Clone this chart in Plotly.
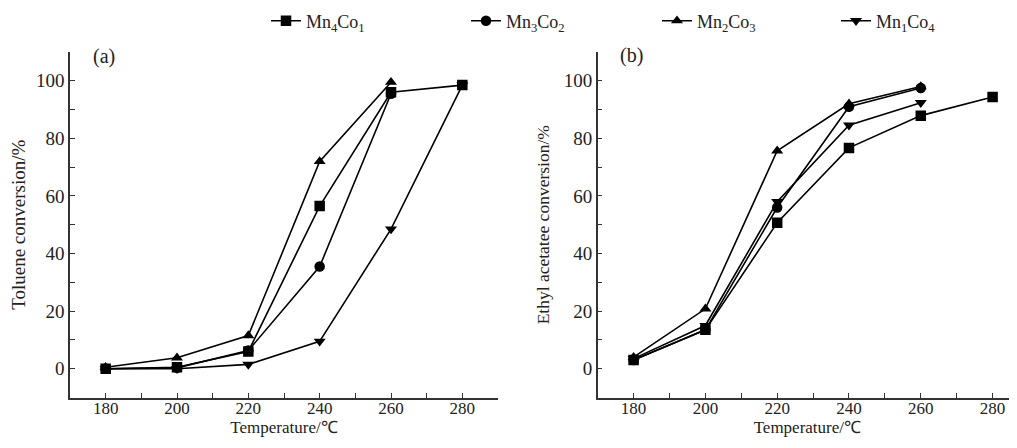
import plotly.graph_objects as go

temps = [180, 200, 220, 240, 260, 280]
series_names = ["Mn<sub>4</sub>Co<sub>1</sub>", "Mn<sub>3</sub>Co<sub>2</sub>",
                "Mn<sub>2</sub>Co<sub>3</sub>", "Mn<sub>1</sub>Co<sub>4</sub>"]
symbols = ["square", "circle", "triangle-up", "triangle-down"]

# Panel (a) toluene conversion
tol_mn4co1 = [0, 0.5, 6, 56.5, 96, 98.5]
tol_mn3co2 = [0, 0.3, 6.3, 35.5, 95.5]
tol_mn2co3 = [0.5, 3.8, 11.5, 72, 99.5]
tol_mn1co4 = [0, 0, 1.5, 9.5, 48.5, 98.5]

# Panel (b) ethyl acetate conversion
ea_mn4co1 = [3, 13.5, 50.7, 76.7, 87.9, 94.4]
ea_mn3co2 = [3, 13.5, 56, 91, 97.5]
ea_mn2co3 = [4, 20.8, 75.7, 92, 98]
ea_mn1co4 = [3.5, 15, 58, 84.6, 92.4]

tol = [tol_mn4co1, tol_mn3co2, tol_mn2co3, tol_mn1co4]
ea = [ea_mn4co1, ea_mn3co2, ea_mn2co3, ea_mn1co4]

FONT = "Liberation Serif, Times New Roman, serif"
OFF = 8  # page body margin
W, H = 1017 - OFF, 448 - OFF


def px(xp):
    return (xp - OFF) / W


def py(yp):
    return 1 - (yp - OFF) / H


fig = go.Figure()
legend_text_x = [308, 508, 699, 878]
for i in range(4):
    fig.add_trace(go.Scatter(
        x=temps[:len(tol[i])], y=tol[i], name=series_names[i], mode="lines+markers",
        line=dict(color="black", width=1.6),
        marker=dict(symbol=symbols[i], size=10.5, color="black"),
        xaxis="x", yaxis="y", legend="legend" if i == 0 else f"legend{i+1}",
    ))
for i in range(4):
    fig.add_trace(go.Scatter(
        x=temps[:len(ea[i])], y=ea[i], name=series_names[i], mode="lines+markers",
        line=dict(color="black", width=1.6),
        marker=dict(symbol=symbols[i], size=10.5, color="black"),
        xaxis="x2", yaxis="y2", showlegend=False,
    ))

ydom = [py(397.5), py(52)]
axis_common = dict(
    showline=True, linecolor="#333", linewidth=1.5, ticks="inside", ticklen=5,
    tickwidth=1.2, tickcolor="#333", showgrid=False, zeroline=False, automargin=False,
)
xtick_font = dict(family=FONT, size=17, color="#222")
ytick_font = dict(family=FONT, size=19, color="#222")

legends = {}
for i in range(4):
    key = "legend" if i == 0 else f"legend{i+1}"
    legends[key] = dict(
        x=px(legend_text_x[i] - 42), xanchor="left", y=py(21), yanchor="middle",
        orientation="h", bgcolor="rgba(0,0,0,0)",
        font=dict(family=FONT, size=18, color="#222"),
    )

fig.update_layout(
    width=W, height=H,
    margin=dict(l=0, r=0, t=0, b=0, autoexpand=False),
    paper_bgcolor="white", plot_bgcolor="white",
    font=dict(family=FONT, size=16, color="#222"),
    xaxis=dict(domain=[px(70), px(498)], range=[170, 290], tickvals=[180, 200, 220, 240, 260, 280],
               minor=dict(dtick=10, tick0=170, ticks="inside", ticklen=5, tickcolor="#333"),
               tickfont=xtick_font, ticklabelstandoff=-6,
               title=dict(text="Temperature/℃", standoff=0,
                          font=dict(family=FONT, size=17, color="#222")),
               anchor="y", **axis_common),
    yaxis=dict(domain=ydom, range=[-10, 110], tickvals=[0, 20, 40, 60, 80, 100],
               minor=dict(dtick=10, tick0=-10, ticks="inside", ticklen=5, tickcolor="#333"),
               tickfont=ytick_font,
               title=dict(text="Toluene conversion/%", standoff=13,
                          font=dict(family=FONT, size=19, color="#222")),
               anchor="x", **axis_common),
    xaxis2=dict(domain=[px(597.7), 1.0], range=[170, 286.8], tickvals=[180, 200, 220, 240, 260, 280],
                minor=dict(dtick=10, tick0=170, ticks="inside", ticklen=5, tickcolor="#333"),
                tickfont=xtick_font, ticklabelstandoff=-6,
                title=dict(text="Temperature/℃", standoff=0,
                           font=dict(family=FONT, size=17, color="#222")),
                anchor="y2", **axis_common),
    yaxis2=dict(domain=ydom, range=[-10, 110], tickvals=[0, 20, 40, 60, 80, 100],
                minor=dict(dtick=10, tick0=-10, ticks="inside", ticklen=5, tickcolor="#333"),
                tickfont=ytick_font,
                title=dict(text="Ethyl acetatee conversion/%", standoff=10,
                           font=dict(family=FONT, size=17.5, color="#222")),
                anchor="x2", **axis_common),
    annotations=[
        dict(text="(a)", x=px(104), y=py(57), xref="paper", yref="paper", showarrow=False,
             font=dict(family=FONT, size=20, color="#222"), xanchor="center", yanchor="middle"),
        dict(text="(b)", x=px(631), y=py(55), xref="paper", yref="paper", showarrow=False,
             font=dict(family=FONT, size=20, color="#222"), xanchor="center", yanchor="middle"),
    ],
    **legends,
)

fig.write_html("out.html")
